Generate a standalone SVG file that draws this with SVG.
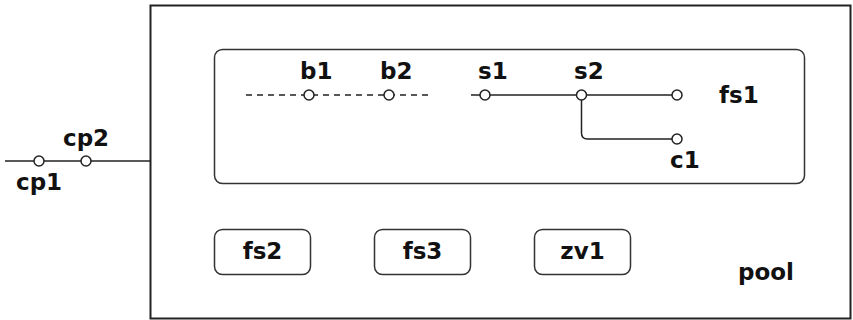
<svg xmlns="http://www.w3.org/2000/svg" width="853" height="320" viewBox="0 0 853 320">
<style>
.lbl{font-family:"DejaVu Sans",sans-serif;font-weight:bold;font-size:23px;fill:#111}
.box{fill:#fff;stroke:#333;stroke-width:1.5}
.ln{fill:none;stroke:#222;stroke-width:1.5}
.dash{fill:none;stroke:#222;stroke-width:1.5;stroke-dasharray:6,5}
.pt{fill:#fff;stroke:#222;stroke-width:1.5}
</style>
<rect width="853" height="320" fill="#fff"/>
<g id="pool">
<rect x="150.5" y="5.5" width="700" height="313" fill="#fff" stroke="#222" stroke-width="2"/>
<text class="lbl" x="738" y="280">pool</text>
</g>
<g id="fs1">
<rect class="box" x="214.5" y="49.5" width="590" height="134" rx="8"/>
<text class="lbl" x="719" y="103">fs1</text>
</g>
<g id="fs2">
<rect class="box" x="214.5" y="229.5" width="96" height="45" rx="8"/>
<text class="lbl" x="262.5" y="259" text-anchor="middle">fs2</text>
</g>
<g id="fs3">
<rect class="box" x="374.5" y="229.5" width="96" height="45" rx="8"/>
<text class="lbl" x="422.5" y="259" text-anchor="middle">fs3</text>
</g>
<g id="zv1">
<rect class="box" x="534.5" y="229.5" width="96" height="45" rx="8"/>
<text class="lbl" x="582.5" y="259" text-anchor="middle">zv1</text>
</g>
<g id="connectors">
<line class="ln" x1="5" y1="161" x2="150" y2="161"/>
<line class="dash" x1="246" y1="95" x2="432" y2="95"/>
<line class="ln" x1="471" y1="95" x2="677" y2="95"/>
<path class="ln" d="M581.5 95 V133 Q581.5 139 587.5 139 H677"/>
</g>
<g id="cp1"><circle class="pt" cx="39" cy="161" r="5"/><text class="lbl" x="16" y="190">cp1</text></g>
<g id="cp2"><circle class="pt" cx="86" cy="161" r="5"/><text class="lbl" x="63" y="146">cp2</text></g>
<g id="b1"><circle class="pt" cx="309" cy="95" r="5"/><text class="lbl" x="300" y="79">b1</text></g>
<g id="b2"><circle class="pt" cx="389" cy="95" r="5"/><text class="lbl" x="380" y="79">b2</text></g>
<g id="s1"><circle class="pt" cx="485" cy="95" r="5"/><text class="lbl" x="478" y="79">s1</text></g>
<g id="s2"><circle class="pt" cx="581.5" cy="95" r="5"/><text class="lbl" x="574" y="79">s2</text></g>
<g id="fs1end"><circle class="pt" cx="677" cy="95" r="5"/></g>
<g id="c1"><circle class="pt" cx="677" cy="139" r="5"/><text class="lbl" x="670" y="168">c1</text></g>
</svg>
